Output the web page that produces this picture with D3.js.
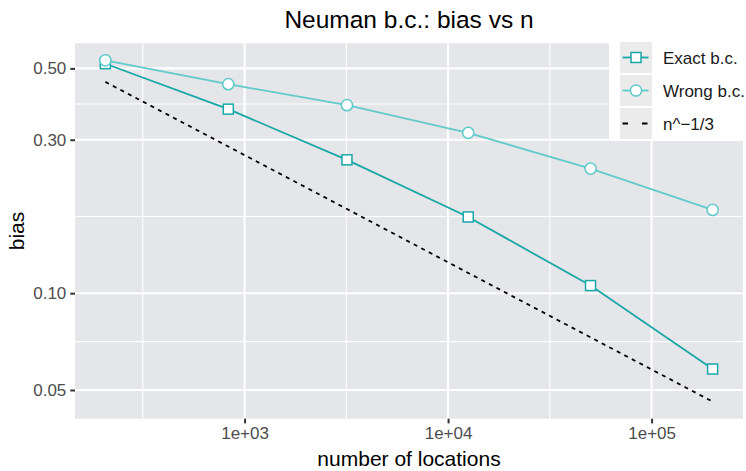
<!DOCTYPE html>
<html>
<head>
<meta charset="utf-8">
<script src="https://cdn.jsdelivr.net/npm/d3@7"></script>
<style>
  html, body { margin: 0; padding: 0; background: #fff; }
  svg { display: block; font-family: "Liberation Sans", Arial, Helvetica, sans-serif; }
</style>
</head>
<body>
<svg id="chart" width="746" height="471"></svg>
<script>
// Simulation results: bias of the estimator against the number of locations
const nLocations = [207, 832, 3185, 12560, 50120, 199500];
const exactBias  = [0.517, 0.3735, 0.2598, 0.1726, 0.1056, 0.0581];
const wrongBias  = [0.5296, 0.4467, 0.3843, 0.3152, 0.2440, 0.1815];
const rateRef    = [0.454, 0.2857, 0.1827, 0.1156, 0.0729, 0.0460];   // n^-1/3 reference

const xTicks = [1e3, 1e4, 1e5];
const xTickLabels = ["1e+03", "1e+04", "1e+05"];
const yTicks = [0.05, 0.1, 0.3, 0.5];
const yTickLabels = ["0.05", "0.10", "0.30", "0.50"];

const seriesNames = ["Exact b.c.", "Wrong b.c.", "n^\u22121/3"];
const colExact = "#1aa7a8";
const colWrong = "#62cacb";

const W = 746, H = 471;
const panel = { left: 75, right: 743, top: 43.3, bottom: 418.7 };

const svg = d3.select("#chart");

// log-space extent with 5% padding on both axes
function paddedLogDomain(values) {
  const lo = Math.log10(d3.min(values)), hi = Math.log10(d3.max(values));
  const pad = (hi - lo) * 0.05;
  return [Math.pow(10, lo - pad), Math.pow(10, hi + pad)];
}

const x = d3.scaleLog()
  .domain(paddedLogDomain(nLocations))
  .range([panel.left, panel.right]);
const y = d3.scaleLog()
  .domain(paddedLogDomain(exactBias.concat(wrongBias, rateRef)))
  .range([panel.bottom, panel.top]);

// minor breaks halfway between major breaks (in log space), extended one step each side
function minorBreaks(ticks, scale) {
  const lt = ticks.map(Math.log10);
  const step = lt[1] - lt[0];
  const dom = scale.domain().map(Math.log10);
  const b = lt.slice();
  if (dom[0] < b[0]) b.unshift(b[0] - step);
  if (dom[1] > b[b.length - 1]) b.push(b[b.length - 1] + step);
  const out = [];
  for (let i = 0; i < b.length - 1; i++) {
    const m = (b[i] + b[i + 1]) / 2;
    if (m > dom[0] && m < dom[1]) out.push(Math.pow(10, m));
  }
  return out;
}

// panel background
svg.append("rect")
  .attr("x", panel.left).attr("y", panel.top)
  .attr("width", panel.right - panel.left).attr("height", panel.bottom - panel.top)
  .attr("fill", "#e5e6e9");

const grid = svg.append("g");
minorBreaks(yTicks, y).forEach(v => grid.append("line")
  .attr("x1", panel.left).attr("x2", panel.right)
  .attr("y1", y(v)).attr("y2", y(v))
  .attr("stroke", "#fff").attr("stroke-width", 1.1));
minorBreaks(xTicks, x).forEach(v => grid.append("line")
  .attr("y1", panel.top).attr("y2", panel.bottom)
  .attr("x1", x(v)).attr("x2", x(v))
  .attr("stroke", "#fff").attr("stroke-width", 1.1));
yTicks.forEach(v => grid.append("line")
  .attr("x1", panel.left).attr("x2", panel.right)
  .attr("y1", y(v)).attr("y2", y(v))
  .attr("stroke", "#fff").attr("stroke-width", 2.1));
xTicks.forEach(v => grid.append("line")
  .attr("y1", panel.top).attr("y2", panel.bottom)
  .attr("x1", x(v)).attr("x2", x(v))
  .attr("stroke", "#fff").attr("stroke-width", 2.1));

// axes
const xAxis = svg.append("g")
  .attr("transform", `translate(0,${panel.bottom})`)
  .call(d3.axisBottom(x).tickValues(xTicks)
    .tickFormat((d, i) => xTickLabels[i]).tickSize(4.7).tickPadding(4));
const yAxis = svg.append("g")
  .attr("transform", `translate(${panel.left},0)`)
  .call(d3.axisLeft(y).tickValues(yTicks)
    .tickFormat((d, i) => yTickLabels[i]).tickSize(4.7).tickPadding(4));
[xAxis, yAxis].forEach(a => {
  a.select(".domain").remove();
  a.selectAll(".tick line").attr("stroke", "#333").attr("stroke-width", 2);
  a.selectAll(".tick text").attr("fill", "#4d4d4d")
    .attr("font-size", 17).attr("font-family", "Liberation Sans, Arial, sans-serif");
});

// reference rate line
const line = d3.line().x((d, i) => x(nLocations[i])).y(d => y(d));
svg.append("path").datum(rateRef)
  .attr("d", line).attr("fill", "none")
  .attr("stroke", "#000").attr("stroke-width", 1.8)
  .attr("stroke-dasharray", "4 4.5");

// Exact b.c. series (squares)
svg.append("path").datum(exactBias)
  .attr("d", line).attr("fill", "none")
  .attr("stroke", colExact).attr("stroke-width", 1.8);
const sq = 10;
svg.append("g").selectAll("rect").data(exactBias).join("rect")
  .attr("x", (d, i) => x(nLocations[i]) - sq / 2)
  .attr("y", d => y(d) - sq / 2)
  .attr("width", sq).attr("height", sq)
  .attr("fill", "#fff").attr("stroke", colExact).attr("stroke-width", 1.5);

// Wrong b.c. series (circles)
svg.append("path").datum(wrongBias)
  .attr("d", line).attr("fill", "none")
  .attr("stroke", colWrong).attr("stroke-width", 1.8);
svg.append("g").selectAll("circle").data(wrongBias).join("circle")
  .attr("cx", (d, i) => x(nLocations[i]))
  .attr("cy", d => y(d))
  .attr("r", 5.6)
  .attr("fill", "#fff").attr("stroke", colWrong).attr("stroke-width", 1.5);

// titles
svg.append("text")
  .attr("x", (panel.left + panel.right) / 2).attr("y", 28)
  .attr("text-anchor", "middle").attr("font-size", 24.5).attr("fill", "#000")
  .text("Neuman b.c.: bias vs n");
svg.append("text")
  .attr("x", (panel.left + panel.right) / 2).attr("y", 466)
  .attr("text-anchor", "middle").attr("font-size", 21).attr("fill", "#000")
  .text("number of locations");
svg.append("text")
  .attr("transform", `translate(24,${(panel.top + panel.bottom) / 2}) rotate(-90)`)
  .attr("text-anchor", "middle").attr("font-size", 21).attr("fill", "#000")
  .text("bias");

// legend, placed inside the top-right corner of the panel
const legend = svg.append("g");
legend.append("rect")
  .attr("x", 609).attr("y", 30).attr("width", W - 609).attr("height", 141 - 30)
  .attr("fill", "#fff");
const keyX = 620, keyW = 32, keyH = 31, keyY0 = 42, keyGap = 33;
seriesNames.forEach((name, i) => {
  const ky = keyY0 + i * keyGap;
  const cy = ky + keyH / 2;
  const g = legend.append("g");
  g.append("rect").attr("x", keyX).attr("y", ky)
    .attr("width", keyW).attr("height", keyH).attr("fill", "#ebebeb");
  if (i < 2) {
    const c = i === 0 ? colExact : colWrong;
    g.append("line").attr("x1", keyX + 2.5).attr("x2", keyX + keyW - 3.5)
      .attr("y1", cy).attr("y2", cy).attr("stroke", c).attr("stroke-width", 1.8);
    if (i === 0) {
      g.append("rect").attr("x", keyX + keyW / 2 - sq / 2).attr("y", cy - sq / 2)
        .attr("width", sq).attr("height", sq)
        .attr("fill", "#fff").attr("stroke", c).attr("stroke-width", 1.5);
    } else {
      g.append("circle").attr("cx", keyX + keyW / 2).attr("cy", cy).attr("r", 5.6)
        .attr("fill", "#fff").attr("stroke", c).attr("stroke-width", 1.5);
    }
  } else {
    g.append("line").attr("x1", keyX + 2.5).attr("x2", keyX + keyW - 3.5)
      .attr("y1", cy).attr("y2", cy).attr("stroke", "#000").attr("stroke-width", 1.8)
      .attr("stroke-dasharray", "5.5 14");
  }
  g.append("text").attr("x", 663).attr("y", cy + 6)
    .attr("font-size", 17).attr("fill", "#1a1a1a").text(name);
});
</script>
</body>
</html>
